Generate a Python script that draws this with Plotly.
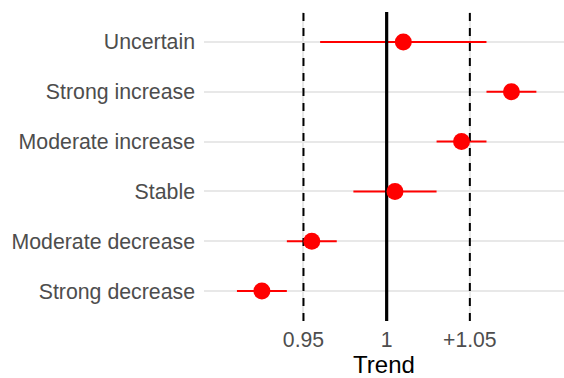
import plotly.graph_objects as go

# Trend estimates per category with lower/upper interval bounds
categories = ["Strong decrease", "Moderate decrease", "Stable",
              "Moderate increase", "Strong increase", "Uncertain"]
trend = [0.925, 0.955, 1.005, 1.045, 1.075, 1.01]
lower = [0.91, 0.94, 0.98, 1.03, 1.06, 0.96]
upper = [0.94, 0.97, 1.03, 1.06, 1.09, 1.06]

# x-axis ticks and reference lines
tick_vals = [0.95, 1.0, 1.05]
tick_text = ["0.95", "1", "+1.05"]
dashed_refs = [0.95, 1.05]
solid_ref = 1.0

ypos = list(range(1, len(categories) + 1))
y_lo, y_hi = 0.4, len(categories) + 0.6

fig = go.Figure()

# Interval segments
for y, lo, hi in zip(ypos, lower, upper):
    fig.add_trace(go.Scatter(
        x=[lo, hi], y=[y, y], mode="lines",
        line=dict(color="#ff0000", width=2), showlegend=False, hoverinfo="skip"))

# Reference lines
for xv in dashed_refs:
    fig.add_trace(go.Scatter(
        x=[xv, xv], y=[y_lo, y_hi], mode="lines",
        line=dict(color="black", width=2, dash="8px,7px"),
        showlegend=False, hoverinfo="skip"))
fig.add_trace(go.Scatter(
    x=[solid_ref, solid_ref], y=[y_lo, y_hi], mode="lines",
    line=dict(color="black", width=3.2), showlegend=False, hoverinfo="skip"))

# Point estimates
fig.add_trace(go.Scatter(
    x=trend, y=ypos, mode="markers",
    marker=dict(color="#ff0000", size=17, line=dict(width=0)),
    showlegend=False))

fig.update_layout(
    width=564, height=378,
    margin=dict(l=204, r=0, t=12, b=57),
    paper_bgcolor="white", plot_bgcolor="white",
    font=dict(family="Liberation Sans, Arial, sans-serif"),
    xaxis=dict(
        range=[0.8902, 1.1066],
        tickvals=tick_vals, ticktext=tick_text,
        tickfont=dict(size=21.2, color="#4d4d4d"),
        showgrid=True, gridcolor="#e8e8e8", gridwidth=1.6,
        zeroline=False, showline=False, ticks="",
        ticklabelstandoff=4,
        title=dict(text="Trend", font=dict(size=24, color="black"), standoff=6),
    ),
    yaxis=dict(
        range=[y_lo, y_hi],
        tickvals=ypos, ticktext=categories,
        tickfont=dict(size=21.3, color="#4d4d4d"),
        showgrid=True, gridcolor="#e8e8e8", gridwidth=1.6,
        zeroline=False, showline=False, ticks="",
        ticklabelstandoff=8,
    ),
)

fig.write_html("out.html")
